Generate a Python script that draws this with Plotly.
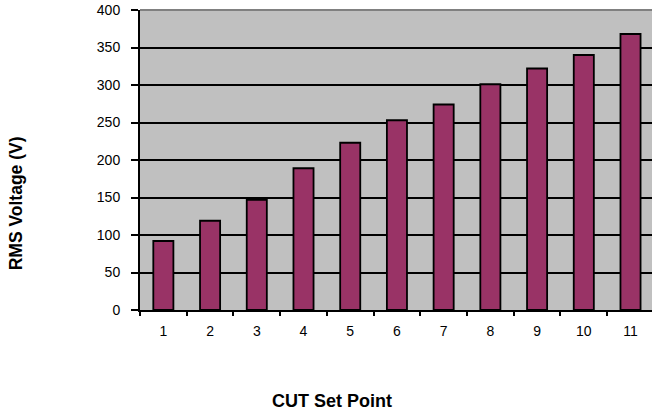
import plotly.graph_objects as go

# CUT set points and measured RMS voltage
set_points = ["1", "2", "3", "4", "5", "6", "7", "8", "9", "10", "11"]
rms_voltage = [92, 119, 147, 189, 223, 253, 274, 301, 322, 340, 368]
y_ticks = [0, 50, 100, 150, 200, 250, 300, 350, 400]

fig = go.Figure(
    go.Bar(
        x=set_points,
        y=rms_voltage,
        width=0.43,
        marker=dict(color="#993366", line=dict(color="#000000", width=1.8)),
    )
)

font_family = "Liberation Sans, Arial, sans-serif"

fig.update_layout(
    width=652,
    height=412,
    margin=dict(l=140, r=0, t=10, b=102),
    paper_bgcolor="#FFFFFF",
    plot_bgcolor="#C0C0C0",
    showlegend=False,
    font=dict(family=font_family, size=14, color="#000000"),
    xaxis=dict(
        type="category",
        range=[-0.5, 10.46],
        tickson="boundaries",
        ticks="outside",
        ticklen=4,
        tickwidth=1.5,
        tickcolor="#000000",
        showline=True,
        linecolor="#000000",
        linewidth=2,
        showgrid=False,
        ticklabelstandoff=7,
        tickfont=dict(size=14),
    ),
    yaxis=dict(
        range=[0, 400],
        tickvals=y_ticks,
        ticks="outside",
        ticklen=7,
        tickwidth=1.5,
        tickcolor="#000000",
        showline=True,
        linecolor="#000000",
        linewidth=2,
        showgrid=True,
        gridcolor="#000000",
        gridwidth=1.5,
        zeroline=False,
        ticklabelstandoff=8,
        tickfont=dict(size=14),
    ),
    shapes=[
        dict(
            type="line", xref="paper", yref="paper",
            x0=0, x1=1, y0=1, y1=1,
            line=dict(color="#808080", width=2),
        )
    ],
    annotations=[
        dict(
            text="<b>CUT Set Point</b>", xref="paper", yref="paper",
            x=(331.5 - 140) / 512, y=-(400 - 309.5) / 299.5,
            xanchor="center", yanchor="middle", showarrow=False,
            font=dict(size=18, family=font_family),
        ),
        dict(
            text="<b>RMS Voltage (V)</b>", xref="paper", yref="paper",
            x=(16 - 140) / 512, y=(309.5 - 203) / 299.5,
            xanchor="center", yanchor="middle", showarrow=False,
            textangle=-90,
            font=dict(size=17.5, family=font_family),
        ),
    ],
)

fig.write_html("out.html")
